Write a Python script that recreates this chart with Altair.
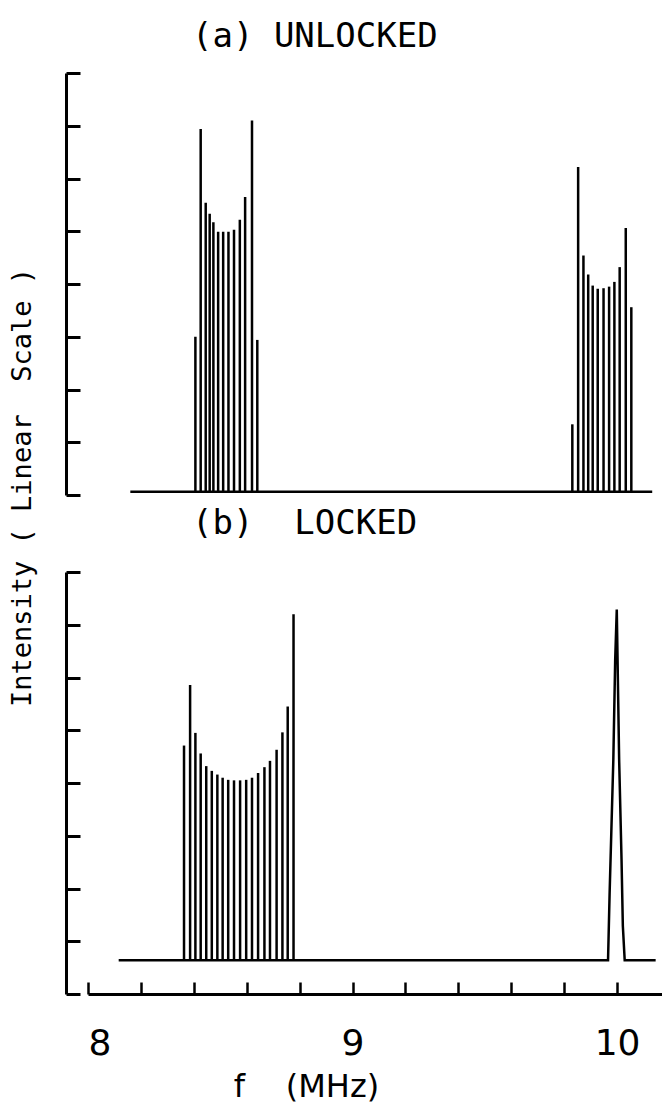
import altair as alt
import pandas as pd

# ---------------- data ----------------
# (a) UNLOCKED : frequency (MHz) and intensity (tick units, linear scale)
a_left_f = [8.406, 8.426, 8.445, 8.460, 8.474, 8.492, 8.511, 8.531, 8.552, 8.574, 8.594, 8.620, 8.640]
a_left_h = [3.00, 6.94, 5.54, 5.33, 5.17, 4.99, 4.99, 4.99, 5.03, 5.22, 5.65, 7.10, 2.94]
a_right_f = [9.831, 9.853, 9.873, 9.891, 9.908, 9.927, 9.949, 9.970, 9.990, 10.010, 10.033, 10.054]
a_right_h = [1.34, 6.22, 4.54, 4.18, 3.97, 3.91, 3.92, 3.95, 4.04, 4.32, 5.06, 3.56]
a_base_f = [8.160, 10.133]
a_base_level = 0.06

# (b) LOCKED
b_f = [8.363, 8.386, 8.406, 8.426, 8.447, 8.468, 8.489, 8.509, 8.530, 8.552,
       8.575, 8.598, 8.620, 8.643, 8.667, 8.688, 8.713, 8.735, 8.755, 8.777]
b_h = [4.71, 5.86, 4.95, 4.56, 4.32, 4.23, 4.16, 4.10, 4.06, 4.05,
       4.05, 4.06, 4.10, 4.19, 4.30, 4.42, 4.63, 4.96, 5.45, 7.20]
b_trace_f = [8.116, 9.966, 9.972, 9.986, 9.993, 9.999, 10.008, 10.017, 10.022, 10.029, 10.146]
b_trace_h = [0.64, 0.64, 1.92, 4.44, 6.33, 7.29, 4.44, 2.55, 1.29, 0.64, 0.64]
b_base_level = 0.64

y_ticks = [0, 1, 2, 3, 4, 5, 6, 7, 8]
x_ticks = [8.0, 8.2, 8.4, 8.6, 8.8, 9.0, 9.2, 9.4, 9.6, 9.8, 10.0]
x_labels = [8, 9, 10]
x_domain = [8.0, 10.17]
y_domain = [0, 8]

NB = "\u00a0"  # non-breaking space (SVG collapses normal runs of spaces)
title_a = "(a)" + NB + "UNLOCKED"
title_b = "(b)" + NB * 2 + "LOCKED"
y_title = "Intensity" + NB + "(" + NB + "Linear" + NB * 2 + "Scale" + NB + ")"
x_title = "f" + NB * 4 + "(MHz)"

# ---------------- tables ----------------
a_bars = pd.DataFrame({"f": a_left_f + a_right_f,
                       "h": a_left_h + a_right_h})
a_bars["base"] = a_base_level
a_base = pd.DataFrame({"f0": [a_base_f[0]], "f1": [a_base_f[1]], "lev": [a_base_level]})

b_bars = pd.DataFrame({"f": b_f, "h": b_h})
b_bars["base"] = b_base_level
b_trace = pd.DataFrame({"f": b_trace_f, "h": b_trace_h, "o": list(range(len(b_trace_f)))})

W = 574
H = 422
LABEL_FONT = "DejaVu Sans"
MONO_FONT = "DejaVu Sans Mono"

xs = alt.Scale(domain=x_domain, nice=False, zero=False)
ys = alt.Scale(domain=y_domain, nice=False, zero=False)


def y_axis(title=None):
    kw = dict(orient="right", offset=-(W + 22), values=y_ticks, labels=False,
              tickSize=14, tickWidth=3, tickColor="black",
              domainWidth=3, domainColor="black", grid=False)
    if title:
        kw.update(title=title, titleAngle=270, titleX=-44, titleY=414,
                  titleAlign="center", titleBaseline="middle",
                  titleFont=MONO_FONT, titleFontSize=27, titleFontWeight="normal",
                  titleColor="black")
    else:
        kw.update(title=None)
    return alt.Axis(**kw)


# ---------------- panel (a) ----------------
top_bars = alt.Chart(a_bars).mark_rule(color="black", strokeWidth=2.5).encode(
    x=alt.X("f:Q", scale=xs, axis=None),
    y=alt.Y("base:Q", scale=ys, axis=y_axis(y_title)),
    y2="h:Q",
)
top_base = alt.Chart(a_base).mark_rule(color="black", strokeWidth=2.5).encode(
    x=alt.X("f0:Q", scale=xs, axis=None),
    x2="f1:Q",
    y=alt.Y("lev:Q", scale=ys),
)
top = alt.layer(top_bars, top_base).properties(
    width=W, height=H,
    title=alt.TitleParams(title_a, anchor="start", frame="group", dx=104,
                          offset=18, font=MONO_FONT, fontSize=34,
                          fontWeight="normal", color="black"),
)

# ---------------- panel (b) ----------------
bot_bars = alt.Chart(b_bars).mark_rule(color="black", strokeWidth=2.5).encode(
    x=alt.X("f:Q", scale=xs,
            axis=alt.Axis(orient="top", offset=-H, values=x_ticks, labels=False,
                          tickSize=12, tickWidth=2.5, tickColor="black",
                          domainWidth=3, domainColor="black", grid=False, title=None)),
    y=alt.Y("base:Q", scale=ys, axis=y_axis()),
    y2="h:Q",
)
bot_trace = alt.Chart(b_trace).mark_line(color="black", strokeWidth=2.5).encode(
    x=alt.X("f:Q", scale=xs,
            axis=alt.Axis(orient="bottom", values=x_labels, format="d", tickSize=0,
                          domain=False, grid=False, labelPadding=32,
                          labelFont=LABEL_FONT, labelFontSize=36, labelColor="black",
                          title=x_title, titleFont=LABEL_FONT, titleFontSize=32,
                          titleFontWeight="normal", titleColor="black",
                          titleX=218, titlePadding=10, titleAlign="center")),
    y=alt.Y("h:Q", scale=ys),
    order="o:Q",
)
bottom = alt.layer(bot_bars, bot_trace).resolve_axis(x="independent").properties(
    width=W, height=H,
    title=alt.TitleParams(title_b, anchor="start", frame="group", dx=104,
                          offset=30, font=MONO_FONT, fontSize=34,
                          fontWeight="normal", color="black"),
)

chart = alt.vconcat(top, bottom, spacing=77, bounds="flush").properties(
    padding={"left": 7, "top": 19, "right": 0, "bottom": 2},
    background="white",
).configure_view(stroke=None)

chart.save("out.html", embed_options={"renderer": "svg", "actions": False})
